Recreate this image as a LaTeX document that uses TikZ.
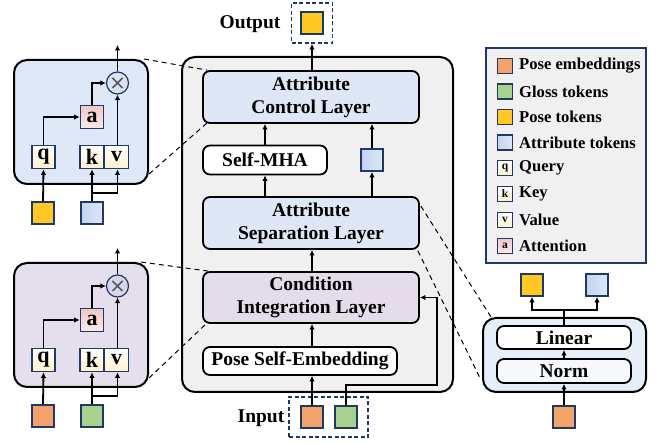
\documentclass[tikz,border=0pt]{standalone}
\usepackage{fontspec}
\setmainfont{Liberation Serif}
\usetikzlibrary{arrows.meta,calc}
\definecolor{navy}{HTML}{1F3864}
\definecolor{tyellow}{HTML}{FFC825}
\definecolor{torange}{HTML}{F2A36C}
\definecolor{tgreen}{HTML}{A9D18E}
\definecolor{tattrA}{HTML}{C3D4EE}
\definecolor{tattrB}{HTML}{DDE8F7}
\definecolor{panA}{HTML}{DFE8F8}
\definecolor{panB}{HTML}{E5DFED}
\definecolor{panC}{HTML}{F0F0F0}
\definecolor{layA}{HTML}{DDE7F6}
\definecolor{layB}{HTML}{E4DCEA}
\definecolor{panR}{HTML}{E6EEF9}
\definecolor{qkvc}{HTML}{FFF0CC}
\definecolor{attc}{HTML}{F0C8C8}
\definecolor{circA}{HTML}{D9E2F3}
\definecolor{circB}{HTML}{D9D5EA}
\newcommand{\mainf}{\fontsize{19.5}{23}\selectfont\bfseries}
\newcommand{\letf}{\fontsize{22}{24}\selectfont\bfseries}
\newcommand{\legf}{\fontsize{16.6}{19}\selectfont\bfseries}
\newcommand{\smallf}{\fontsize{11.5}{12}\selectfont\bfseries}
\tikzset{
 arr/.style={-{Latex[length=5.5pt,width=5.5pt]}, line width=1.8pt},
 ln/.style={line width=1.8pt},
 tok/.style={draw=navy, line width=1.7pt, minimum size=22pt, inner sep=0pt},
 tokY/.style={tok, fill=tyellow},
 tokO/.style={tok, fill=torange},
 tokG/.style={tok, fill=tgreen},
 tokA/.style={tok, left color=tattrA, right color=tattrB},
 layer/.style={draw=black, line width=1.8pt, rounded corners=7pt, align=center, inner sep=0pt, font=\mainf},
 panel/.style={draw=black, line width=2pt, rounded corners=13pt, inner sep=0pt},
 lett/.style={draw=navy, line width=1.7pt, minimum size=23pt, inner sep=0pt, font=\letf, top color=white, bottom color=qkvc},
 lettA/.style={lett, top color=attc, bottom color=attc!40!white},
 mult/.style={circle, draw=navy, line width=1.2pt, minimum size=22pt, inner sep=0pt},
 dsh/.style={line width=1pt, dash pattern=on 5pt off 4pt},
 dbox/.style={draw=navy, line width=1.7pt, dash pattern=on 4pt off 2.5pt, inner sep=0pt},
 lico/.style={draw=navy, line width=1.4pt, minimum size=15pt, inner sep=0pt, font=\smallf},
 ltxt/.style={anchor=west, font=\legf, inner sep=0pt},
}
\begin{document}
\begin{tikzpicture}[x=1pt,y=-1pt]
\useasboundingbox (0,0) rectangle (664,443);

% ---------- central panel ----------
\node[panel, fill=panC, minimum width=271pt, minimum height=335pt] (C) at (317.5,224.5) {};
\node[layer, fill=layA, minimum width=216pt, minimum height=52pt] (acl) at (311,97) {Attribute\\Control Layer};
\node[layer, fill=white, minimum width=124pt, minimum height=29pt] (mha) at (265,160) {Self-MHA};
\node[tokA] (ca) at (372,160) {};
\node[layer, fill=layA, minimum width=216pt, minimum height=52pt] (asl) at (311,223) {Attribute\\Separation Layer};
\node[layer, fill=layB, minimum width=216pt, minimum height=51pt] (cil) at (311,297.5) {Condition\\Integration Layer};
\node[layer, fill=white, minimum width=194pt, minimum height=28pt] (pse) at (300,361) {Pose Self-Embedding};

% output / input
\node[dbox, minimum width=41pt, minimum height=40pt] (ob) at (312,23) {};
\node[tokY] (oy) at (312,23) {};
\node[font=\mainf, inner sep=0pt] (olbl) at (250,24) {Output};
\node[dbox, minimum width=79pt, minimum height=40pt] (ib) at (328.5,417) {};
\node[tokO] (io) at (312,417) {};
\node[tokG] (ig) at (346,417) {};
\node[font=\mainf, inner sep=0pt] (ilbl) at (261,418) {Input};

\draw[arr] (acl.north -| ob) -- (ob.south);
\draw[arr] (mha.north |- asl.north) -- (mha.south);
\draw[arr] (ca.north |- asl.north) -- (ca.south);
\draw[arr] (mha.north) -- (mha.north |- acl.south);
\draw[arr] (ca.north) -- (ca.north |- acl.south);
\draw[arr] (cil.north -| ob) -- (asl.south -| ob);
\draw[arr] (pse.north -| ob) -- (cil.south -| ob);
\draw[arr] (io.north) -- (io.north |- pse.south);
\coordinate (gr) at (437,385);
\draw[arr] (ig.north) |- (gr) |- (cil.east);

% ---------- left panels ----------
\foreach \p/\dy/\pf/\cf/\ta/\tb in {A/0/panA/circA/tokY/tokA, B/203/panB/circB/tokO/tokG}{
 \begin{scope}[shift={(0,\dy)}]
  \node[panel, fill=\pf, minimum width=134pt, minimum height=124pt] (P\p) at (81,122) {};
  \node[lett] (q\p) at (43.5,157) {q};
  \node[lett, minimum width=24pt] (k\p) at (92,157) {k};
  \node[lett, minimum width=24pt] (v\p) at (116.5,157) {v};
  \node[lettA] (a\p) at (92,117) {a};
  \node[mult, fill=\cf] (m\p) at (117.5,83) {};
  \draw[line width=1.6pt, black!65] ($(m\p)+(-5,-5)$) -- ($(m\p)+(5,5)$) ($(m\p)+(-5,5)$) -- ($(m\p)+(5,-5)$);
  \node[\ta] (s\p) at (43,213) {};
  \node[\tb] (t\p) at (92,213) {};
  \coordinate (top\p) at (117.5,45);
  \coordinate (br\p) at (92,193);
  \draw[arr] (q\p.north) |- (a\p.west);
  \draw[arr] (a\p.north) |- (m\p.west);
  \draw[arr] (v\p.north -| m\p) -- (m\p.south);
  \draw[arr] (m\p.north) -- (top\p);
  \draw[arr] (s\p.north) -- (q\p.south);
  \draw[arr] (t\p.north) -- (k\p.south);
  \draw[arr] (br\p) -| (v\p.south -| m\p);
 \end{scope}
}
\draw[dsh] ($(PA.north east)+(-5,0)$) -- ($(acl.north west)+(5,0)$);
\draw[dsh] ($(PA.south east)+(0,-11)$) -- ($(acl.south west)+(5,-1)$);
\draw[dsh] ($(PB.north east)+(-8,0)$) -- ($(cil.north west)+(6,0)$);
\draw[dsh] ($(PB.south east)+(0,-10)$) -- ($(cil.south west)+(5,-1)$);

% ---------- right panel ----------
\node[panel, fill=panR, minimum width=163pt, minimum height=74pt] (R) at (564.5,355) {};
\node[layer, fill=white, minimum width=134pt, minimum height=23pt] (lin) at (564,337.5) {Linear};
\node[layer, fill=panR!40!white, minimum width=134pt, minimum height=24pt] (nrm) at (564,371) {Norm};
\node[tokO] (ro) at (564,417) {};
\node[tokY] (ry) at (532,285) {};
\node[tokA] (ra) at (597,285) {};
\coordinate (sp) at (564,310);
\draw[arr] (ro.north) -- (nrm.south);
\draw[arr] (nrm.north) -- (lin.south);
\draw[ln] (lin.north) -- (sp);
\draw[arr] (sp) -| (ry.south);
\draw[arr] (sp) -| (ra.south);
\draw[dsh] ($(asl.north east)+(1,10)$) -- ($(R.north west)+(9,0)$);
\draw[dsh] ($(asl.south east)+(-2,1)$) -- ($(R.south west)+(-2,-15)$);

% ---------- legend ----------
\node[draw=navy, line width=1.3pt, fill=panC, minimum width=160pt, minimum height=215pt] (L) at (566,155.5) {};
\node[lico, fill=torange] (l1) at (505,66) {};
\node[ltxt] (t1) at (519,66) {Pose embeddings};
\node[lico, fill=tgreen] (l2) at (505,91.5) {};
\node[ltxt] (t2) at (519,91.5) {Gloss tokens};
\node[lico, fill=tyellow] (l3) at (505,117) {};
\node[ltxt] (t3) at (519,117) {Pose tokens};
\node[lico, left color=tattrA, right color=tattrB] (l4) at (505,142.5) {};
\node[ltxt] (t4) at (519,142.5) {Attribute tokens};
\node[lico, top color=white, bottom color=qkvc] (l5) at (505,168) {q};
\node[ltxt] (t5) at (519,168) {Query};
\node[lico, top color=white, bottom color=qkvc] (l6) at (505,194) {k};
\node[ltxt] (t6) at (519,194) {Key};
\node[lico, top color=white, bottom color=qkvc] (l7) at (505,220) {v};
\node[ltxt] (t7) at (519,220) {Value};
\node[lico, top color=attc, bottom color=attc!40!white] (l8) at (505,246) {a};
\node[ltxt] (t8) at (519,246) {Attention};
\end{tikzpicture}
\end{document}
